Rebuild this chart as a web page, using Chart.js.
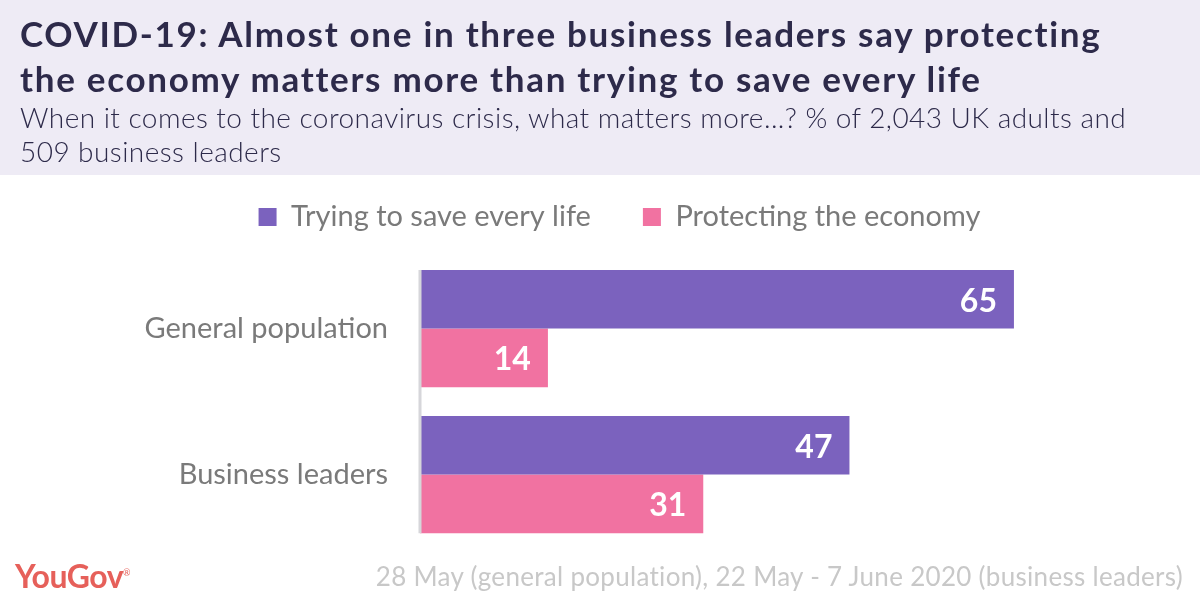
<!DOCTYPE html>
<html>
<head>
<meta charset="utf-8">
<script src="https://cdn.jsdelivr.net/npm/chart.js@4"></script>
<style>
  html, body { margin:0; padding:0; width:1200px; height:600px; overflow:hidden; background:#fff; font-family: Lato, sans-serif; }
  #header { position:absolute; left:0; top:0; width:1200px; height:175px; background:#EEEBF5; z-index:0; }
  #title { position:absolute; left:20px; top:11px; font-weight:700; font-size:35px; line-height:45px; letter-spacing:1.7px; color:#2D2A4A; white-space:nowrap; z-index:3; }
  #subtitle { position:absolute; left:20px; top:100px; font-weight:300; font-size:28px; line-height:34px; letter-spacing:0.45px; color:#2D2A4A; white-space:nowrap; z-index:3; }
  #chartWrap { position:absolute; left:0; top:100px; width:1200px; height:497px; z-index:1; }
  #logo { position:absolute; left:15px; top:556px; font-weight:700; font-size:32px; color:#E6605A; letter-spacing:-0.5px; z-index:2; }
  #logo sup { font-size:9px; font-weight:400; }
  #source { position:absolute; right:17px; top:560px; font-size:26px; letter-spacing:0.3px; color:#C8C8C8; font-weight:400; white-space:nowrap; z-index:2; }
</style>
</head>
<body>
<div id="header"></div>
<div id="chartWrap"><canvas id="c" width="1200" height="497"></canvas></div>
<div id="title">COVID-19: Almost one in three business leaders say protecting<br>the economy matters more than trying to save every life</div>
<div id="subtitle">When it comes to the coronavirus crisis, what matters more...? % of 2,043 UK adults and<br>509 business leaders</div>
<div id="logo">YouGov<sup>®</sup></div>
<div id="source">28 May (general population), 22 May - 7 June 2020 (business leaders)</div>
<script>
const categories = ["General population", "Business leaders"];
const seriesNames = ["Trying to save every life", "Protecting the economy"];
const saveEveryLife = [65, 47];
const protectEconomy = [14, 31];
const seriesColors = ["#7B62BE", "#F172A1"];

const valueLabels = {
  id: 'valueLabels',
  afterDatasetsDraw(chart) {
    const ctx = chart.ctx;
    ctx.save();
    ctx.fillStyle = '#ffffff';
    ctx.font = '700 32px Lato';
    ctx.textAlign = 'right';
    ctx.textBaseline = 'middle';
    chart.data.datasets.forEach((ds, i) => {
      chart.getDatasetMeta(i).data.forEach((bar, j) => {
        ctx.fillText(String(ds.data[j]), bar.x - 17, bar.y + 2);
      });
    });
    ctx.restore();
  }
};

const axisLine = {
  id: 'axisLine',
  afterDatasetsDraw(chart) {
    const m0 = chart.getDatasetMeta(0).data;
    const m1 = chart.getDatasetMeta(chart.data.datasets.length - 1).data;
    const top = m0[0].y - m0[0].height / 2;
    const bottom = m1[m1.length - 1].y + m1[m1.length - 1].height / 2;
    const x = chart.chartArea.left;
    const ctx = chart.ctx;
    ctx.save();
    ctx.strokeStyle = '#D6D6DA';
    ctx.lineWidth = 3;
    ctx.beginPath();
    ctx.moveTo(x, top);
    ctx.lineTo(x, bottom);
    ctx.stroke();
    ctx.restore();
  }
};

new Chart(document.getElementById('c'), {
  type: 'bar',
  data: {
    labels: categories,
    datasets: [
      { label: seriesNames[0], data: saveEveryLife, backgroundColor: seriesColors[0] },
      { label: seriesNames[1], data: protectEconomy, backgroundColor: seriesColors[1] }
    ]
  },
  options: {
    indexAxis: 'y',
    responsive: false,
    animation: false,
    events: [],
    layout: { padding: { left: 88, right: 49, top: 50.5, bottom: 17.5 } },
    datasets: { bar: { barPercentage: 1.0, categoryPercentage: 0.803 } },
    scales: {
      x: {
        position: 'top',
        min: 0, max: 80,
        grid: { display: false, drawTicks: true, tickLength: 14 },
        border: { display: false },
        ticks: { display: false }
      },
      y: {
        grid: { display: false, drawTicks: false },
        border: { display: false },
        ticks: { color: '#7A7A7A', font: { family: 'Lato', size: 29 }, padding: 32 },
        afterFit(scale) { scale.width = 332; }
      }
    },
    plugins: {
      legend: {
        position: 'top',
        labels: {
          color: '#7A7A7A',
          font: { family: 'Lato', size: 29 },
          boxWidth: 18, boxHeight: 18,
          padding: 52
        }
      },
      tooltip: { enabled: false }
    }
  },
  plugins: [valueLabels, axisLine]
});
</script>
</body>
</html>
